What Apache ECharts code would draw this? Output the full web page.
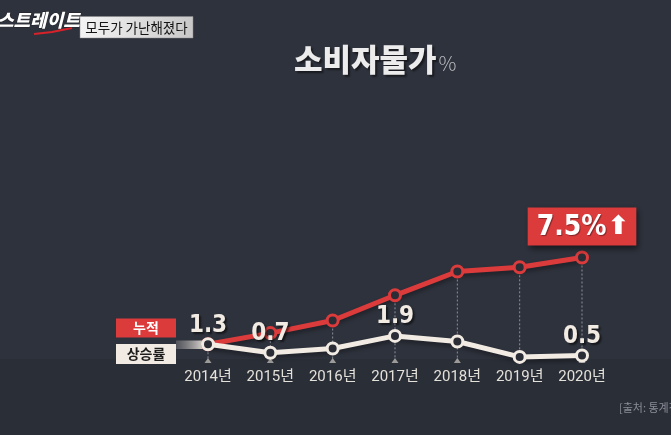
<!DOCTYPE html>
<html>
<head>
<meta charset="utf-8">
<script src="https://cdn.jsdelivr.net/npm/echarts@6/dist/echarts.min.js"></script>
<style>
  html, body { margin: 0; padding: 0; background: #2e323c; }
  #chart { width: 671px; height: 435px; }
</style>
</head>
<body>
<div id="chart"></div>
<script>
// Consumer price index, Korea 2014-2020 (%)
const years = ['2014년', '2015년', '2016년', '2017년', '2018년', '2019년', '2020년'];
const annualRate = [1.3, 0.7, 1.0, 1.9, 1.5, 0.4, 0.5];      // 상승률
const cumulative = [1.3, 2.1, 3.0, 4.8, 6.5, 6.8, 7.5];      // 누적
const rateLabelShown = [true, true, false, true, false, false, true];
const tickMarkShown = [true, true, true, true, true, true, true];

const RED = '#dc3b3c';
const CREAM = '#f1ebe3';
const BG = '#2e323c';
const NUM_FONT = "'DejaVu Sans Condensed', 'Liberation Sans Narrow', 'Noto Sans CJK KR', sans-serif";
const YEAR_FONT = "'Roboto', 'Noto Sans CJK KR', sans-serif";

const chart = echarts.init(document.getElementById('chart'), null, { renderer: 'canvas' });

const markerStyle = (c) => ({ color: '#2a2d36', borderColor: c, borderWidth: 3 });

chart.setOption({
  backgroundColor: BG,
  animation: false,
  grid: { left: 208, right: 89, top: 82.5, bottom: 72.5 },
  xAxis: {
    type: 'category',
    data: years,
    boundaryGap: false,
    axisLine: { show: false },
    axisTick: { show: false },
    axisLabel: {
      interval: 0,
      color: '#e4e0da',
      fontFamily: YEAR_FONT,
      fontSize: 15,
      margin: 7
    }
  },
  yAxis: { type: 'value', min: 0, max: 20, show: false, splitLine: { show: false } },
  graphic: [
    // darker lower band behind the year labels
    { type: 'rect', z: -10, shape: { x: 0, y: 359, width: 671, height: 76 }, style: { fill: 'rgba(0,0,0,0.08)' } },
    // programme logo
    { type: 'polyline', z: 5, shape: { points: [[34, 34], [52, 32], [72, 28]] }, style: { stroke: '#d8222a', lineWidth: 2, fill: null } },
    { type: 'text', z: 6, x: -3, y: 11, style: { text: '스트레이트', fill: '#ffffff', font: "italic 900 18px 'Noto Sans CJK KR'", stroke: '#111', lineWidth: 0.5 } },
    // episode tag
    { type: 'rect', shape: { x: 80, y: 16.5, width: 113, height: 21.5 },
      style: { fill: new echarts.graphic.LinearGradient(0, 0, 1, 0, [{ offset: 0, color: '#f4f4f4' }, { offset: 1, color: '#c8c8c8' }]), stroke: '#888', lineWidth: 0.5 } },
    { type: 'text', x: 136.5, y: 27.5, style: { text: '모두가 가난해졌다', fill: '#151515', font: "400 13.5px 'Noto Sans CJK KR'", align: 'center', verticalAlign: 'middle' } },
    // heading
    { type: 'text', x: 294, y: 44, style: {
        text: '{t|소비자물가}{p|%}',
        rich: {
          t: { fill: '#ececec', font: "900 31px 'Noto Sans CJK KR'", textShadowColor: 'rgba(0,0,0,0.5)', textShadowOffsetX: 2, textShadowOffsetY: 2, textShadowBlur: 2 },
          p: { fill: '#b8b8bc', font: "300 20px 'Noto Sans CJK KR'", padding: [8, 0, 0, 2] }
        } } },
    // series legend boxes
    { type: 'rect', shape: { x: 116, y: 318.5, width: 60, height: 19 }, style: { fill: RED } },
    { type: 'text', x: 146, y: 328, style: { text: '누적', fill: '#ffffff', font: "700 14px 'Noto Sans CJK KR'", align: 'center', verticalAlign: 'middle' } },
    { type: 'rect', shape: { x: 116, y: 344, width: 60, height: 20 }, style: { fill: CREAM } },
    { type: 'text', x: 146, y: 354, style: { text: '상승률', fill: '#1d1d1d', font: "700 14px 'Noto Sans CJK KR'", align: 'center', verticalAlign: 'middle' } },
    { type: 'rect', shape: { x: 176, y: 340.5, width: 31, height: 8.5 },
      style: { fill: new echarts.graphic.LinearGradient(0, 0, 1, 0, [{ offset: 0, color: 'rgba(120,120,125,0.5)' }, { offset: 1, color: CREAM }]) } },
    // source
    { type: 'text', x: 619, y: 402, style: { text: '[출처: 통계청]', fill: '#8a8d96', font: "400 11px 'Noto Sans CJK KR'" } }
  ],
  series: [
    {
      // dotted drop lines from the cumulative points
      type: 'custom',
      z: 1,
      silent: true,
      data: cumulative.map((v, i) => [i, v]),
      renderItem: (params, api) => {
        const top = api.coord([api.value(0), api.value(1)]);
        const bottom = api.coord([api.value(0), 0.25]);
        return {
          type: 'line',
          shape: { x1: top[0], y1: top[1], x2: bottom[0], y2: bottom[1] },
          style: { stroke: '#8d8f98', lineWidth: 1, lineDash: [2, 2] }
        };
      }
    },
    {
      // small tick triangles on the base line
      type: 'scatter',
      z: 2,
      silent: true,
      symbol: 'triangle',
      symbolSize: [7, 5],
      symbolOffset: [0, -2],
      itemStyle: { color: '#b9b6b0' },
      data: tickMarkShown.map((s, i) => (s ? [i, 0] : null)).filter(Boolean)
    },
    {
      name: '누적',
      type: 'line',
      z: 3,
      data: cumulative.map((v, i) => i === cumulative.length - 1 ? {
        value: v,
        label: {
          show: true,
          position: 'top',
          distance: 5,
          formatter: (p) => '{v|' + p.value + '%}{a|⬆}',
          backgroundColor: RED,
          padding: [6, 7, 4, 9],
          shadowColor: 'rgba(0,0,0,0.5)',
          shadowBlur: 6,
          shadowOffsetX: 2,
          shadowOffsetY: 3,
          rich: {
            v: { color: '#ffffff', fontFamily: NUM_FONT, fontWeight: 'bold', fontSize: 28, textShadowColor: 'rgba(0,0,0,0.4)', textShadowOffsetX: 1, textShadowOffsetY: 1, textShadowBlur: 1 },
            a: { color: '#ffffff', fontFamily: "'DejaVu Sans', sans-serif", fontWeight: 'bold', fontSize: 26, padding: [0, 0, 0, 1] }
          }
        }
      } : v),
      symbol: 'circle',
      symbolSize: 11,
      showAllSymbol: true,
      lineStyle: { color: RED, width: 5, shadowColor: 'rgba(0,0,0,0.35)', shadowBlur: 4, shadowOffsetY: 3 },
      itemStyle: markerStyle(RED)
    },
    {
      name: '상승률',
      type: 'line',
      z: 4,
      data: annualRate.map((v, i) => ({
        value: v,
        label: {
          show: rateLabelShown[i],
          position: 'top',
          distance: 0,
          color: CREAM,
          fontFamily: NUM_FONT,
          fontWeight: 'bold',
          fontSize: 24,
          textShadowColor: 'rgba(0,0,0,0.55)',
          textShadowOffsetX: 2,
          textShadowOffsetY: 2,
          textShadowBlur: 2
        }
      })),
      symbol: 'circle',
      symbolSize: 11,
      lineStyle: { color: CREAM, width: 5, shadowColor: 'rgba(0,0,0,0.35)', shadowBlur: 4, shadowOffsetY: 3 },
      itemStyle: markerStyle(CREAM)
    }
  ]
});
</script>
</body>
</html>
